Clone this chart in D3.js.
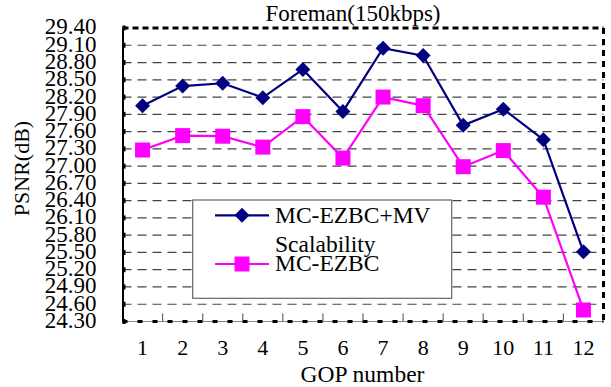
<!DOCTYPE html>
<html><head><meta charset="utf-8">
<script src="https://cdn.jsdelivr.net/npm/d3@7"></script>
<style>
html,body{margin:0;padding:0;background:#fff;}
</style></head>
<body><svg id="c" width="611" height="387" font-family="Liberation Serif"></svg>
<script>
const categories = ["1","2","3","4","5","6","7","8","9","10","11","12"];
const mvScalability = [28.05, 28.39, 28.44, 28.19, 28.68, 27.95, 29.05, 28.92, 27.71, 27.99, 27.46, 25.51];
const mcEzbc = [27.28, 27.53, 27.52, 27.33, 27.86, 27.14, 28.20, 28.05, 26.99, 27.27, 26.46, 24.50];
const yTicks = [24.3,24.6,24.9,25.2,25.5,25.8,26.1,26.4,26.7,27.0,27.3,27.6,27.9,28.2,28.5,28.8,29.1,29.4];
const seriesNames = ["MC-EZBC+MV", "Scalability", "MC-EZBC"];
const title = "Foreman(150kbps)";
const xTitle = "GOP number";
const yTitle = "PSNR(dB)";
const FONT = "Liberation Serif";

const svg = d3.select("#c");
const L = 122.5, R = 603.5, T = 28, B = 321.5;
const x = d3.scaleBand().domain(categories).range([L, R]);
const y = d3.scaleLinear().domain([24.3, 29.4]).range([B, T]);

// gridlines
svg.append("g").selectAll("line").data(yTicks.filter(v => v > 24.31 && v < 29.39)).join("line")
  .attr("x1", L).attr("x2", R).attr("y1", d => y(d)).attr("y2", d => y(d))
  .attr("stroke", "#444").attr("stroke-width", 1.2).attr("stroke-dasharray", "9,6");

// top & right borders (thick dashed)
svg.append("line").attr("x1", L).attr("x2", R).attr("y1", T).attr("y2", T)
  .attr("stroke", "#000").attr("stroke-width", 3).attr("stroke-dasharray", "6,4");
svg.append("line").attr("x1", R).attr("x2", R).attr("y1", T).attr("y2", B)
  .attr("stroke", "#000").attr("stroke-width", 3).attr("stroke-dasharray", "6,5");
// bottom border
svg.append("line").attr("x1", L).attr("x2", R).attr("y1", B).attr("y2", B)
  .attr("stroke", "#888").attr("stroke-width", 1.2);
svg.append("line").attr("x1", L).attr("x2", R).attr("y1", B).attr("y2", B)
  .attr("stroke", "#000").attr("stroke-width", 3).attr("stroke-dasharray", "5,10");
// bottom tick marks at band boundaries
svg.append("g").selectAll("line").data(categories.slice(1)).join("line")
  .attr("x1", d => x(d)).attr("x2", d => x(d)).attr("y1", B - 8).attr("y2", B)
  .attr("stroke", "#666").attr("stroke-width", 1.2);

// left axis
const yAxis = d3.axisLeft(y).tickValues(yTicks).tickFormat(d3.format(".2f")).tickSize(0).tickPadding(26);
const gy = svg.append("g").attr("transform", `translate(${L},0)`).call(yAxis)
  .attr("font-family", FONT).attr("font-size", 23);
gy.select(".domain").attr("stroke", "#000").attr("stroke-width", 2);
gy.selectAll("text").attr("dy", "0.26em").attr("fill", "#000");
svg.append("g").selectAll("rect").data(yTicks).join("rect")
  .attr("x", L).attr("y", d => y(d) - 2.5).attr("width", 3).attr("height", 5).attr("fill", "#000");

// x labels
const xAxis = d3.axisBottom(x).tickSize(0).tickPadding(26);
const gx = svg.append("g").attr("transform", `translate(0,${B})`).call(xAxis)
  .attr("font-family", FONT).attr("font-size", 22);
gx.select(".domain").remove();
gx.selectAll("text").attr("dy", "0.35em").attr("fill", "#000");

// lines
const line = d3.line().x((d, i) => x(categories[i]) + x.bandwidth() / 2).y(d => y(d));
svg.append("path").datum(mcEzbc).attr("d", line).attr("fill", "none").attr("stroke", "#ff00ff").attr("stroke-width", 2.2);
svg.append("path").datum(mvScalability).attr("d", line).attr("fill", "none").attr("stroke", "#000080").attr("stroke-width", 2.2);

const sq = 15, dm = 15;
svg.append("g").selectAll("rect").data(mcEzbc).join("rect")
  .attr("x", (d, i) => x(categories[i]) + x.bandwidth() / 2 - sq / 2)
  .attr("y", d => y(d) - sq / 2).attr("width", sq).attr("height", sq).attr("fill", "#ff00ff");
const diamond = s => `M0,${-s/2}L${s/2},0L0,${s/2}L${-s/2},0Z`;
svg.append("g").selectAll("path").data(mvScalability).join("path")
  .attr("transform", (d, i) => `translate(${x(categories[i]) + x.bandwidth() / 2},${y(d)})`)
  .attr("d", diamond(dm)).attr("fill", "#000080");

// legend
svg.append("rect").attr("x", 192.7).attr("y", 200).attr("width", 259).attr("height", 98.3)
  .attr("fill", "#fff").attr("stroke", "#666").attr("stroke-width", 1.2);
svg.append("line").attr("x1", 215).attr("x2", 269).attr("y1", 215.3).attr("y2", 215.3)
  .attr("stroke", "#000080").attr("stroke-width", 2.2);
svg.append("path").attr("transform", "translate(242,215.3)").attr("d", diamond(dm)).attr("fill", "#000080");
svg.append("line").attr("x1", 215).attr("x2", 269).attr("y1", 264).attr("y2", 264)
  .attr("stroke", "#ff00ff").attr("stroke-width", 2.2);
svg.append("rect").attr("x", 242 - sq / 2).attr("y", 264 - sq / 2).attr("width", sq).attr("height", sq).attr("fill", "#ff00ff");
svg.append("text").attr("x", 275).attr("y", 223.3).attr("font-size", 23.5).attr("font-family", FONT).text(seriesNames[0]);
svg.append("text").attr("x", 275).attr("y", 251.7).attr("font-size", 23.5).attr("font-family", FONT).text(seriesNames[1]);
svg.append("text").attr("x", 275).attr("y", 271).attr("font-size", 23.5).attr("font-family", FONT).text(seriesNames[2]);

// titles
svg.append("text").attr("x", 353).attr("y", 21).attr("text-anchor", "middle").attr("font-size", 23).attr("font-family", FONT).text(title);
svg.append("text").attr("x", 362.5).attr("y", 381.5).attr("text-anchor", "middle").attr("font-size", 23.5).attr("font-family", FONT).text(xTitle);
svg.append("text").attr("transform", "translate(29,168.5) rotate(-90)").attr("text-anchor", "middle").attr("font-size", 22).attr("font-family", FONT).text(yTitle);
</script></body></html>
